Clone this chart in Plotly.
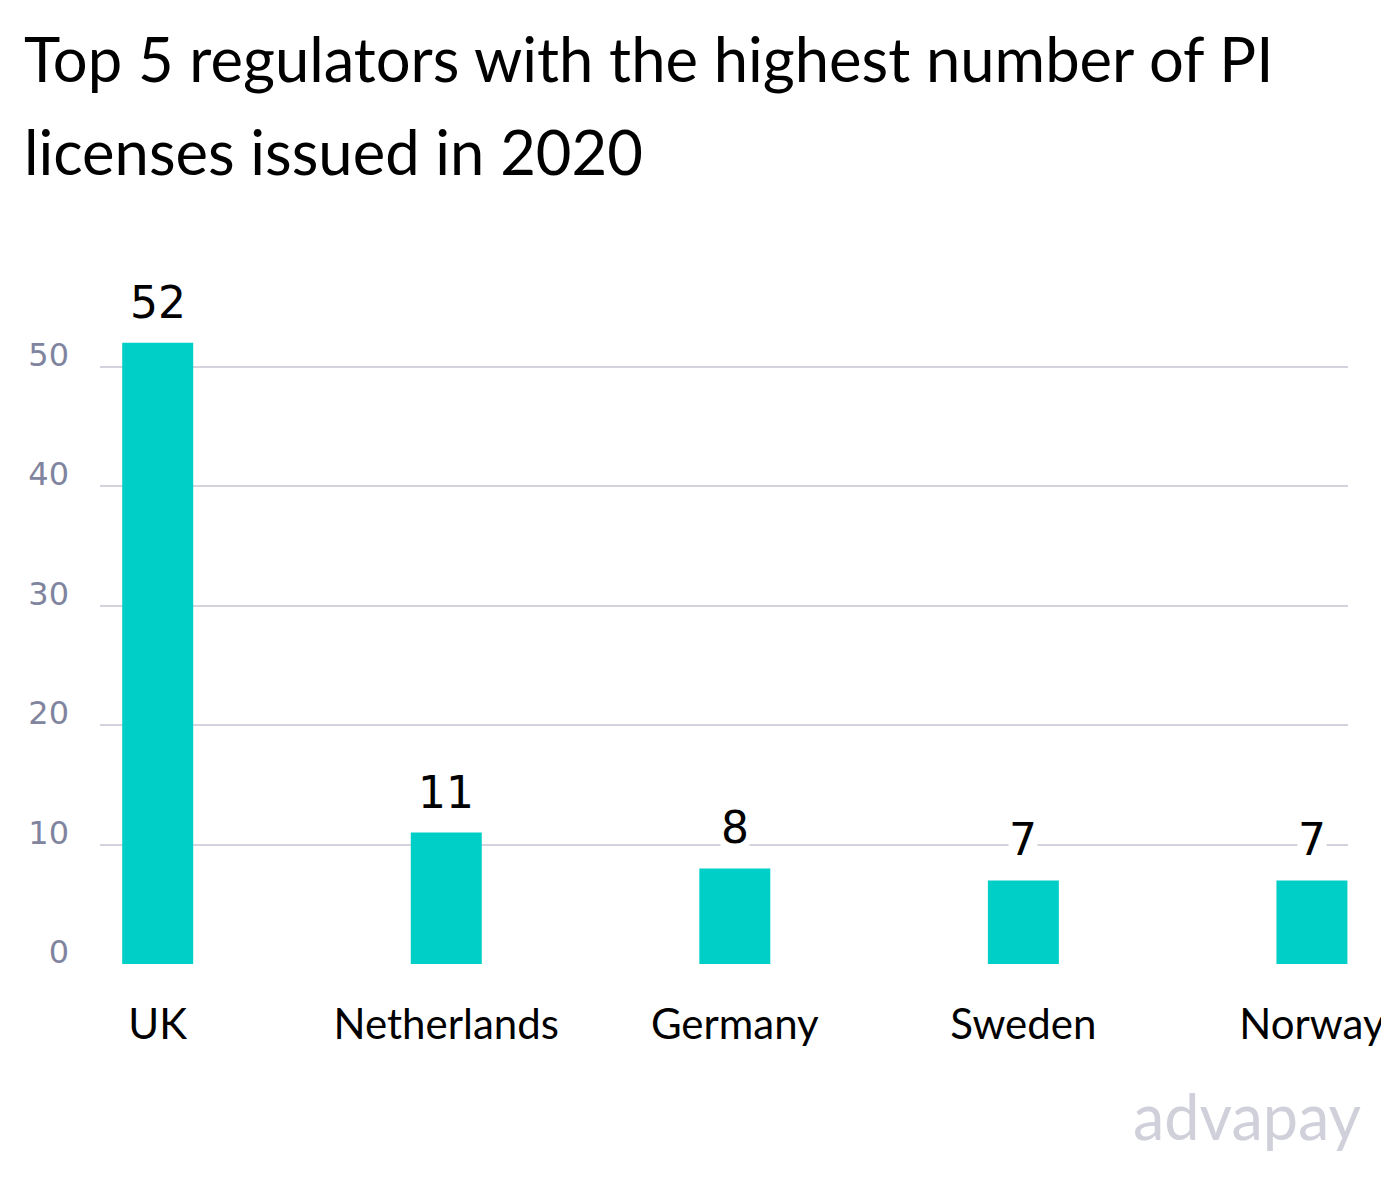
import plotly.graph_objects as go

categories = ["UK", "Netherlands", "Germany", "Sweden", "Norway"]
values = [52, 11, 8, 7, 7]
tick_vals = [0, 10, 20, 30, 40, 50]
tick_text = ["0", "10", "20", "30", "40", "50"]

BAR = "#00cfc8"
GRID = "#d3d3de"
TICK = "#80849e"
TITLE_FONT = "Lato"
NUM_FONT = "DejaVu Sans"

# plot area in figure pixels
L, R, T, B = 92, 1345, 299, 956
W, H = R - L, B - T


def px(xf):
    return (xf - L) / W


def py(yf):
    return (B - yf) / H


fig = go.Figure()
fig.add_trace(go.Bar(
    x=list(range(len(categories))),
    y=values,
    width=0.246,
    marker=dict(color=BAR, line=dict(width=0)),
    hoverinfo="skip",
))

for i, v in enumerate(values):
    fig.add_annotation(
        x=i, y=v, xref="x", yref="y", text=str(v),
        showarrow=False, yanchor="bottom", yshift=14,
        font=dict(family=NUM_FONT, size=44, color="#000000"),
        bgcolor="white", borderpad=0,
    )

title_lines = ["Top 5 regulators with the highest number of PI", "licenses issued in 2020"]
for j, line in enumerate(title_lines):
    fig.add_annotation(
        x=px(14), y=py(50 + 93 * j),
        xref="paper", yref="paper", xanchor="left", yanchor="middle",
        text=line, showarrow=False,
        font=dict(family=TITLE_FONT, size=61.5, color="#000000"),
    )

fig.add_annotation(
    x=px(1360), y=py(1107),
    xref="paper", yref="paper", xanchor="right", yanchor="middle",
    text="advapay", showarrow=False,
    font=dict(family=TITLE_FONT, size=63, color="#cfd0da"),
)

fig.update_layout(
    width=1389, height=1180,
    margin=dict(l=L, r=1389 - R, t=T, b=1180 - B, pad=0),
    paper_bgcolor="white", plot_bgcolor="white",
    showlegend=False,
    xaxis=dict(
        range=[-0.2, 4.125],
        tickmode="array", tickvals=list(range(len(categories))), ticktext=categories,
        showgrid=False, zeroline=False, showline=False, ticks="",
        tickfont=dict(family=TITLE_FONT, size=42, color="#000000"),
        ticklabelstandoff=32,
    ),
    yaxis=dict(
        range=[0, 55],
        tickmode="array", tickvals=tick_vals, ticktext=tick_text,
        showgrid=True, gridcolor=GRID, gridwidth=2,
        zeroline=False, showline=False, ticks="",
        tickfont=dict(family=NUM_FONT, size=32, color=TICK),
        ticklabelstandoff=30, ticklabelshift=-12,
    ),
)

fig.write_html("out.html")
